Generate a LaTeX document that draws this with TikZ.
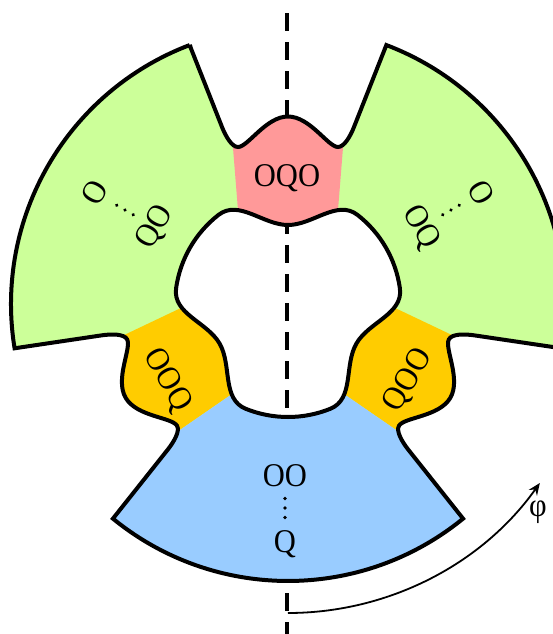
\documentclass[tikz,border=0pt]{standalone}
\usepackage{fontspec}
\setmainfont{Liberation Serif}[FakeStretch=0.92]
\usetikzlibrary{arrows.meta}
\definecolor{cgreen}{HTML}{CCFF99}
\definecolor{cred}{HTML}{FF9999}
\definecolor{corange}{HTML}{FFCC00}
\definecolor{cblue}{HTML}{99CCFF}
\newcommand\Nout[1]{-- ([rotate=#1]-66,177) .. controls ([rotate=#1]-62,167) and ([rotate=#1]-56,157) .. ([rotate=#1]-50,157) .. controls ([rotate=#1]-40,157) and ([rotate=#1]-22,187.5) .. ([rotate=#1]0,187.5) .. controls ([rotate=#1]22,187.5) and ([rotate=#1]40,157) .. ([rotate=#1]50,157) .. controls ([rotate=#1]56,157) and ([rotate=#1]62,167) .. ([rotate=#1]66,177) -- ([rotate=#1]69.2:277)}
\newcommand\OuterPath{(110.8:277) \Nout{0} arc[start angle=69.2, end angle=-9.2, radius=277] \Nout{240} arc[start angle=309.2, end angle=230.8, radius=277] \Nout{120} arc[start angle=189.2, end angle=110.8, radius=277] -- cycle}
\newcommand\Nin[1]{.. controls ([rotate=#1]-49.1,105) and ([rotate=#1]-25,79) .. ([rotate=#1]0,79) .. controls ([rotate=#1]25,79) and ([rotate=#1]49.1,105) .. ([rotate=#1]52:113)}
\newcommand\InnerPath{(128:113) \Nin{0} arc[start angle=52, end angle=8, radius=113] \Nin{240} arc[start angle=292, end angle=248, radius=113] \Nin{120} arc[start angle=172, end angle=128, radius=113] -- cycle}
\newcommand\Wedge[1]{([rotate=#1]-69.7,340) -- ([rotate=#1]69.7,340) -- ([rotate=#1]45.7,40) -- ([rotate=#1]-45.7,40) -- cycle}
\tikzset{
  outline/.style={line width=2pt},
  axisline/.style={line width=1.6pt, dash pattern=on 9pt off 5.5pt},
  lbl/.style={font=\fontsize{16.6}{19}\selectfont, inner sep=0pt, text height=11pt, text depth=0pt},
  dotfill/.style={fill=black},
}
\begin{document}
\begin{tikzpicture}[x=0.5pt,y=0.5pt]
\useasboundingbox (-288,-330) rectangle (265,304);
\coordinate (axT) at (-1,291);
\coordinate (axB) at (-1,-330);
\draw[axisline] (axT) -- (axB);
\fill[cgreen] \OuterPath;
\begin{scope}
  \clip \OuterPath;
  \fill[cred] \Wedge{0};
  \fill[corange] \Wedge{120};
  \fill[corange] \Wedge{240};
  \fill[cblue] ([rotate=120]-45.7,40) -- ([rotate=120]-69.7,340) -- (0,-600) -- ([rotate=240]69.7,340) -- ([rotate=240]45.7,40) -- cycle;
\end{scope}
\fill[white] \InnerPath;
\begin{scope}
  \clip \InnerPath;
  \draw[axisline] (axT) -- (axB);
\end{scope}
\draw[outline] \OuterPath;
\draw[outline] \InnerPath;
% labels
\node[lbl] (red) at (-1,129) {OQO};
\node[lbl] (blueA) at (-3,-171) {OO};
\foreach \d in {-9.5,0,9.5} \fill[dotfill] (-3,-204+\d) circle[radius=1.8];
\node[lbl] (blueC) at (-3,-237) {Q};
\begin{scope}[shift={(-163,94)}, rotate=60]
  \node[lbl, transform shape] (glA) at (0,35) {O};
  \foreach \d in {-9.5,0,9.5} \fill[dotfill] (0,\d) circle[radius=1.8];
  \node[lbl, transform shape] (glC) at (0,-32) {QO};
\end{scope}
\begin{scope}[shift={(163,94)}, rotate=-60]
  \node[lbl, transform shape] (grA) at (0,35) {O};
  \foreach \d in {-9.5,0,9.5} \fill[dotfill] (0,\d) circle[radius=1.8];
  \node[lbl, transform shape] (grC) at (0,-32) {OQ};
\end{scope}
\node[lbl, rotate=-60] (orL) at (-118,-75) {OOQ};
\node[lbl, rotate=60] (orR) at (118,-75) {QOO};
% phi arrow
\coordinate (phS) at (270:309);
\draw[line width=0.9pt, -{Stealth[length=6pt,width=5pt,inset=2pt]}] (phS) arc[start angle=270, end angle=324.6, radius=309];
\node[font=\fontsize{16.6}{19}\selectfont, inner sep=0pt] (phi) at (250,-208) {φ};
\end{tikzpicture}
\end{document}
